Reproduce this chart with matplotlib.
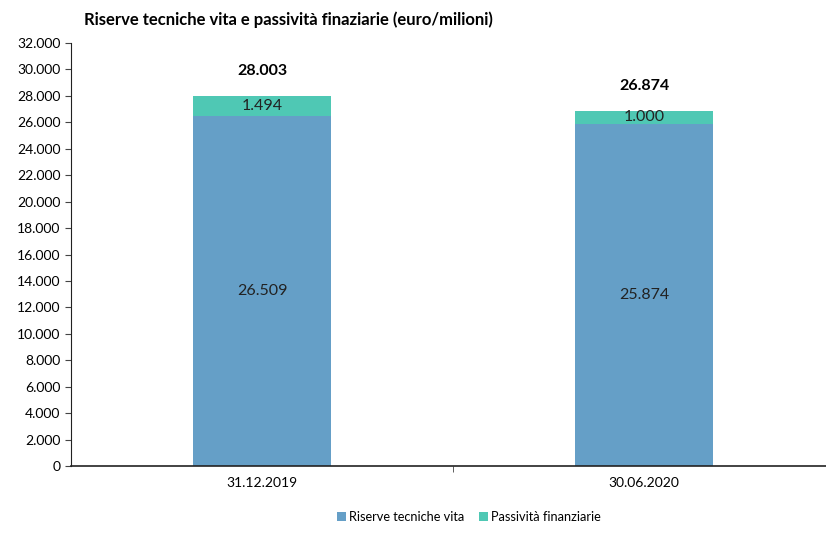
import matplotlib

matplotlib.use("Agg")
import matplotlib.pyplot as plt
from matplotlib.ticker import FuncFormatter, MultipleLocator

plt.rcParams["font.family"] = ["Lato", "DejaVu Sans"]

categories = ["31.12.2019", "30.06.2020"]
riserve = [26509, 25874]
passivita = [1494, 1000]
series_labels = ["Riserve tecniche vita", "Passività finanziarie"]
title = "Riserve tecniche vita e passività finaziarie (euro/milioni)"

BLUE = "#659FC7"
TEAL = "#4FC8B4"


def dotted(v):
    return f"{int(round(v)):,}".replace(",", ".")


fig = plt.figure(figsize=(8.26, 5.49), dpi=100)
W, H = 826, 549
ax = fig.add_axes([71 / W, 1 - 466 / H, (835 - 71) / W, (466 - 43) / H])

x = range(len(categories))
width = 0.36
b1 = ax.bar(x, riserve, width=width, color=BLUE, label=series_labels[0])
b2 = ax.bar(x, passivita, width=width, bottom=riserve, color=TEAL, label=series_labels[1])

for i in x:
    ax.text(i, riserve[i] / 2, dotted(riserve[i]), ha="center", va="center", fontsize=11.5, color="#222222")
    ax.text(i, riserve[i] + passivita[i] / 2, dotted(passivita[i]), ha="center", va="center",
            fontsize=11.5, color="#222222")
    total = riserve[i] + passivita[i]
    ax.text(i, total + 1900, dotted(total), ha="center", va="center", fontsize=11.5,
            fontweight="bold", color="black")

ax.set_xlim(-0.5, 1.5)
ax.set_ylim(0, 32000)
ax.yaxis.set_major_locator(MultipleLocator(2000))
ax.yaxis.set_major_formatter(FuncFormatter(lambda v, p: dotted(v)))
ax.set_xticks(list(x), categories)
ax.set_xticks([0.5], minor=True)
ax.tick_params(axis="x", which="major", length=0, pad=8, labelsize=10)
ax.tick_params(axis="x", which="minor", length=4, direction="out", color="#444444")
ax.tick_params(axis="y", length=4, direction="out", labelsize=10, color="#444444")

for side in ["top", "right"]:
    ax.spines[side].set_visible(False)
ax.spines["left"].set_color("#222222")
ax.spines["bottom"].set_color("#222222")
ax.spines["bottom"].set_linewidth(1.2)

fig.text(84 / W, 1 - 20 / H, title, fontsize=12, fontweight="bold", va="center", ha="left")

fig.legend(handles=[b1, b2], labels=series_labels, loc="center", bbox_to_anchor=(469 / W, 1 - 517 / H),
           ncol=2, frameon=False, fontsize=9.2, handlelength=0.7, handleheight=0.7,
           handletextpad=0.2, columnspacing=1.2)

fig.savefig("out.png", dpi=100)
